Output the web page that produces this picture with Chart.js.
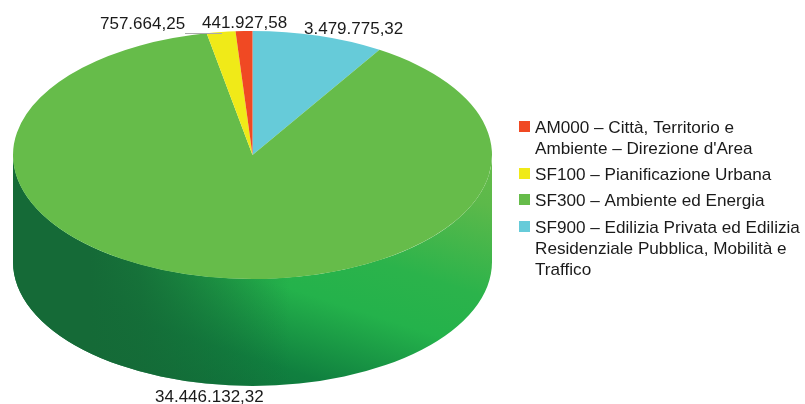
<!DOCTYPE html>
<html>
<head>
<meta charset="utf-8">
<style>html,body{margin:0;padding:0;background:#fff}canvas{display:block}</style>
<script src="https://cdn.jsdelivr.net/npm/chart.js@4/dist/chart.umd.js"></script>
</head>
<body>
<canvas id="c" width="805" height="404"></canvas>
<script>
// Clockwise from 12 o'clock, as the slices appear in the picture
const categories = [
  ["SF900 – Edilizia Privata ed Edilizia", "Residenziale Pubblica, Mobilità e", "Traffico"],
  ["SF300 – Ambiente ed Energia"],
  ["SF100 – Pianificazione Urbana"],
  ["AM000 – Città, Territorio e", "Ambiente – Direzione d'Area"]
];
const values = [3479775.32, 34446132.32, 757664.25, 441927.58];
const colors = ["#66CBD9", "#66BC4A", "#F0EA18", "#F04923"];

const FONT = '17.15px "Liberation Sans", Arial, sans-serif';
const LABEL_FONT = '17px "Liberation Sans", Arial, sans-serif';
const RX = 239.5;

function fmt(v) {
  const [i, d] = v.toFixed(2).split(".");
  return i.replace(/\B(?=(\d{3})+$)/g, ".") + "," + d;
}

const squash = {
  id: "squash",
  beforeDatasetsDraw(chart) {
    const arc = chart.getDatasetMeta(0).data[0];
    const ctx = chart.ctx, cx = arc.x, cy = arc.y, ry = arc.outerRadius, depth = 107;
    // side wall of the cylinder
    const wall = () => {
      ctx.beginPath();
      ctx.ellipse(cx, cy, RX, ry, 0, Math.PI, 0, true);
      ctx.lineTo(cx + RX, cy + depth);
      ctx.ellipse(cx, cy + depth, RX, ry, 0, 0, Math.PI, false);
      ctx.closePath();
    };
    ctx.save();
    const g = ctx.createLinearGradient(190, 400, 290, 90);
    g.addColorStop(0, "#0F6F3A");
    g.addColorStop(0.18, "#10803F");
    g.addColorStop(0.42, "#24B24B");
    g.addColorStop(0.58, "#2BB34B");
    g.addColorStop(0.85, "#5CB94A");
    g.addColorStop(1, "#66BC4A");
    wall(); ctx.fillStyle = g; ctx.fill();
    const h = ctx.createLinearGradient(90, 0, 290, 0);
    h.addColorStop(0, "rgba(21,106,55,1)");
    h.addColorStop(0.25, "rgba(21,106,55,0.85)");
    h.addColorStop(1, "rgba(21,106,55,0)");
    wall(); ctx.fillStyle = h; ctx.fill();
    ctx.restore();
    // flatten the library's round pie to the ellipse of the top face
    ctx.save();
    ctx.translate(cx, 0);
    ctx.scale(RX / ry, 1);
    ctx.translate(-cx, 0);
  },
  afterDatasetsDraw(chart) {
    chart.ctx.restore();
  }
};

const annotate = {
  id: "annotate",
  afterDraw(chart) {
    const ctx = chart.ctx;
    ctx.save();
    ctx.fillStyle = "#1a1a1a";
    ctx.textBaseline = "alphabetic";
    ctx.textAlign = "left";
    // value labels
    const spots = [[304, 34], [155, 402], [100, 29], [202, 28]];
    ctx.font = LABEL_FONT;
    values.forEach((v, i) => ctx.fillText(fmt(v), spots[i][0], spots[i][1]));
    ctx.strokeStyle = "#aaaaaa";
    ctx.lineWidth = 1;
    ctx.beginPath(); ctx.moveTo(185, 33.5); ctx.lineTo(222, 33.5); ctx.stroke();
    // legend, in the reverse of the slice order
    ctx.font = FONT;
    const tops = [133, 180, 206, 233];
    const order = categories.map((_, i) => categories.length - 1 - i);
    order.forEach((idx, n) => {
      const y = tops[n];
      ctx.fillStyle = colors[idx];
      ctx.fillRect(519, y - 12, 11, 11);
      ctx.fillStyle = "#1a1a1a";
      categories[idx].forEach((line, k) => ctx.fillText(line, 535, y + k * 21));
    });
    ctx.restore();
  }
};

new Chart(document.getElementById("c"), {
  type: "pie",
  data: {
    labels: categories,
    datasets: [{ data: values, backgroundColor: colors, borderWidth: 0, clip: false }]
  },
  options: {
    responsive: false,
    animation: false,
    events: [],
    rotation: 0,
    layout: { padding: { left: 128.5, right: 428.5, top: 31, bottom: 125 } },
    plugins: { legend: { display: false }, tooltip: { enabled: false }, title: { display: false } }
  },
  plugins: [squash, annotate]
});
</script>
</body>
</html>
